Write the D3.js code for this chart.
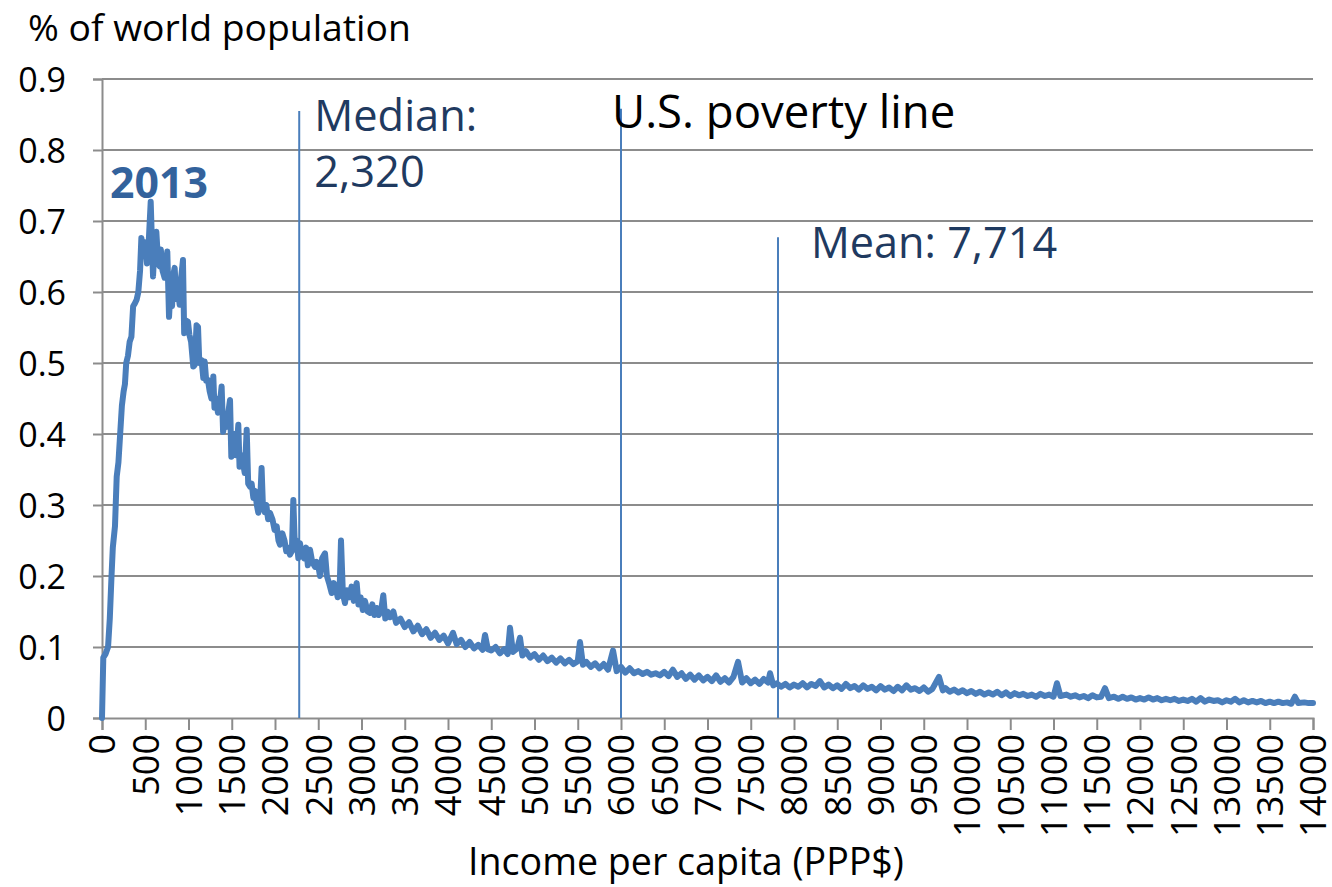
<!DOCTYPE html>
<html>
<head>
<meta charset="utf-8">
<script src="https://cdn.jsdelivr.net/npm/d3@7/dist/d3.min.js"></script>
<style>
  html, body { margin: 0; padding: 0; background: #fff; }
  svg { display: block; }
  text { font-family: "Open Sans", "Noto Sans", sans-serif; }
</style>
</head>
<body>
<svg id="chart" width="1332" height="887"></svg>
<script>
// ---------- data ----------
const yearLabel = "2013";
const yTitle = "% of world population";
const xTitle = "Income per capita (PPP$)";
const yTicks = [0, 0.1, 0.2, 0.3, 0.4, 0.5, 0.6, 0.7, 0.8, 0.9];
const xTicks = [0, 500, 1000, 1500, 2000, 2500, 3000, 3500, 4000, 4500, 5000, 5500, 6000, 6500, 7000,
  7500, 8000, 8500, 9000, 9500, 10000, 10500, 11000, 11500, 12000, 12500, 13000, 13500, 14000];

// reference lines: income position, top of line (share), label lines
const markerIncome = [2280, 6000, 7815];
const markerTop = [0.855, 0.858, 0.677];
const markerLabels = [["Median:", "2,320"], ["U.S. poverty line"], ["Mean: 7,714"]];

// income (PPP$) and share of world population (%)
const income = [
  0, 15, 40, 70, 90, 110, 125, 150, 170, 190, 210, 230, 250, 265, 280, 300, 320, 340, 360, 380,
  400, 420, 440, 455, 475, 500, 520, 540, 563, 580, 590, 610, 628, 650, 667, 680, 700, 724, 740, 755,
  775, 790, 810, 825, 840, 860, 880, 898, 915, 936, 950, 970, 994, 1010, 1030, 1055, 1071, 1093, 1110, 1125,
  1151, 1171, 1187, 1205, 1225, 1245, 1265, 1287, 1300, 1320, 1340, 1360, 1383, 1400, 1420, 1440, 1460, 1480, 1495, 1510,
  1530, 1550, 1576, 1590, 1610, 1630, 1650, 1673, 1690, 1711, 1730, 1750, 1770, 1790, 1807, 1830, 1845, 1860, 1880, 1900,
  1920, 1942, 1970, 1995, 2020, 2040, 2058, 2085, 2110, 2130, 2150, 2173, 2195, 2212, 2230, 2250, 2270, 2289, 2310, 2335,
  2360, 2380, 2405, 2430, 2462, 2480, 2500, 2520, 2545, 2578, 2600, 2625, 2655, 2680, 2700, 2725, 2745, 2763, 2785, 2809,
  2830, 2860, 2885, 2910, 2944, 2965, 2990, 3015, 3040, 3070, 3098, 3125, 3150, 3175, 3200, 3225, 3252, 3275, 3300, 3330,
  3368, 3400, 3450, 3500, 3550, 3600, 3650, 3700, 3750, 3800, 3850, 3900, 3950, 4000, 4058, 4100, 4150, 4200, 4250, 4300,
  4350, 4400, 4428, 4460, 4500, 4550, 4600, 4650, 4690, 4717, 4750, 4800, 4832, 4860, 4900, 4950, 5000, 5050, 5100, 5150,
  5200, 5250, 5300, 5350, 5400, 5450, 5500, 5526, 5560, 5600, 5650, 5700, 5750, 5800, 5850, 5908, 5950, 6000, 6050, 6100,
  6150, 6200, 6250, 6300, 6350, 6400, 6450, 6500, 6550, 6600, 6650, 6700, 6750, 6800, 6850, 6900, 6950, 7000, 7050, 7100,
  7150, 7200, 7250, 7300, 7353, 7400, 7450, 7500, 7550, 7600, 7650, 7700, 7723, 7760, 7800, 7850, 7900, 7950, 8000, 8050,
  8100, 8150, 8200, 8250, 8300, 8350, 8400, 8450, 8500, 8550, 8600, 8650, 8700, 8750, 8800, 8850, 8900, 8950, 9000, 9050,
  9100, 9150, 9200, 9250, 9300, 9350, 9400, 9450, 9500, 9550, 9600, 9676, 9720, 9750, 9800, 9850, 9900, 9950, 10000, 10050,
  10100, 10150, 10200, 10250, 10300, 10350, 10400, 10450, 10500, 10550, 10600, 10650, 10700, 10750, 10800, 10850, 10900, 10950, 11000, 11040,
  11080, 11150, 11200, 11250, 11300, 11350, 11400, 11450, 11500, 11550, 11595, 11640, 11700, 11750, 11800, 11850, 11900, 11950, 12000, 12050,
  12100, 12150, 12200, 12250, 12300, 12350, 12400, 12450, 12500, 12550, 12600, 12650, 12700, 12750, 12800, 12850, 12900, 12950, 13000, 13050,
  13100, 13150, 13200, 13250, 13300, 13350, 13400, 13450, 13500, 13550, 13600, 13650, 13700, 13750, 13790, 13830, 13900, 13950, 14000
];
const share = [
  0, 0.085, 0.09, 0.1, 0.14, 0.2, 0.24, 0.27, 0.34, 0.36, 0.4, 0.44, 0.46, 0.47, 0.5, 0.51, 0.53, 0.537, 0.58, 0.584,
  0.589, 0.6, 0.63, 0.676, 0.66, 0.67, 0.64, 0.67, 0.727, 0.66, 0.622, 0.67, 0.685, 0.64, 0.636, 0.66, 0.63, 0.62, 0.64, 0.657,
  0.565, 0.6, 0.58, 0.625, 0.634, 0.59, 0.6, 0.582, 0.62, 0.645, 0.542, 0.56, 0.558, 0.54, 0.53, 0.495, 0.497, 0.553, 0.551, 0.5,
  0.504, 0.479, 0.502, 0.475, 0.476, 0.46, 0.45, 0.481, 0.437, 0.45, 0.43, 0.44, 0.467, 0.403, 0.42, 0.41, 0.43, 0.448, 0.368, 0.39,
  0.4, 0.37, 0.413, 0.354, 0.37, 0.36, 0.345, 0.406, 0.33, 0.326, 0.33, 0.31, 0.32, 0.3, 0.289, 0.31, 0.352, 0.3, 0.29, 0.3,
  0.28, 0.289, 0.28, 0.265, 0.27, 0.25, 0.244, 0.26, 0.25, 0.235, 0.24, 0.23, 0.235, 0.307, 0.24, 0.25, 0.225, 0.246, 0.23, 0.225,
  0.24, 0.215, 0.237, 0.22, 0.213, 0.22, 0.215, 0.2, 0.225, 0.232, 0.2, 0.19, 0.176, 0.19, 0.185, 0.17, 0.172, 0.25, 0.175, 0.162,
  0.18, 0.17, 0.185, 0.165, 0.19, 0.16, 0.17, 0.152, 0.165, 0.15, 0.148, 0.16, 0.145, 0.155, 0.145, 0.15, 0.173, 0.14, 0.15, 0.142,
  0.15, 0.134, 0.14, 0.128, 0.135, 0.122, 0.13, 0.118, 0.125, 0.113, 0.12, 0.11, 0.116, 0.105, 0.12, 0.104, 0.11, 0.1, 0.107, 0.098,
  0.103, 0.096, 0.117, 0.097, 0.095, 0.1, 0.091, 0.097, 0.09, 0.127, 0.093, 0.098, 0.113, 0.088, 0.094, 0.085, 0.09, 0.082, 0.088, 0.08,
  0.085, 0.078, 0.084, 0.077, 0.082, 0.076, 0.08, 0.107, 0.075, 0.079, 0.072, 0.077, 0.07, 0.076, 0.068, 0.095, 0.066, 0.072, 0.064, 0.07,
  0.063, 0.066, 0.062, 0.065, 0.061, 0.063, 0.06, 0.065, 0.059, 0.068, 0.058, 0.063, 0.055, 0.061, 0.054, 0.06, 0.053, 0.058, 0.052, 0.06,
  0.051, 0.056, 0.05, 0.058, 0.079, 0.05, 0.056, 0.049, 0.054, 0.048, 0.055, 0.05, 0.063, 0.046, 0.049, 0.044, 0.048, 0.043, 0.047, 0.044,
  0.049, 0.043, 0.048, 0.045, 0.052, 0.043, 0.047, 0.042, 0.046, 0.041, 0.048, 0.042, 0.045, 0.04, 0.046, 0.041, 0.044, 0.039, 0.045, 0.04,
  0.043, 0.038, 0.044, 0.039, 0.046, 0.04, 0.042, 0.038, 0.043, 0.037, 0.041, 0.058, 0.039, 0.042, 0.037, 0.04, 0.036, 0.039, 0.035, 0.038,
  0.034, 0.037, 0.033, 0.036, 0.033, 0.037, 0.032, 0.036, 0.031, 0.035, 0.032, 0.034, 0.031, 0.033, 0.03, 0.034, 0.031, 0.033, 0.03, 0.049,
  0.031, 0.033, 0.03, 0.032, 0.029, 0.031, 0.028, 0.032, 0.029, 0.03, 0.042, 0.028, 0.03, 0.027, 0.03, 0.027, 0.029, 0.026, 0.028, 0.026,
  0.029, 0.026, 0.028, 0.025, 0.027, 0.025, 0.027, 0.024, 0.026, 0.024, 0.027, 0.023, 0.028, 0.023, 0.026, 0.024, 0.025, 0.022, 0.025, 0.023,
  0.027, 0.022, 0.025, 0.022, 0.024, 0.022, 0.024, 0.021, 0.023, 0.021, 0.023, 0.021, 0.022, 0.02, 0.03, 0.021, 0.022, 0.021, 0.021
];

// ---------- layout ----------
const W = 1332, H = 887;
const plot = { left: 102, right: 1313, top: 79, bottom: 718 };

const svg = d3.select("#chart");
const x = d3.scaleLinear().domain([0, 14000]).range([plot.left, plot.right]);
const y = d3.scaleLinear().domain([0, 0.9]).range([plot.bottom, plot.top]);

const gridColor = "#8c8c8c";
const lineColor = "#4a7ebb";

// horizontal gridlines
svg.append("g")
  .selectAll("line")
  .data(yTicks.filter(d => d > 0))
  .join("line")
  .attr("x1", plot.left).attr("x2", plot.right)
  .attr("y1", d => y(d)).attr("y2", d => y(d))
  .attr("stroke", gridColor).attr("stroke-width", 2);

// y axis
const yAxis = svg.append("g")
  .attr("transform", `translate(${plot.left},0)`)
  .call(d3.axisLeft(y).tickValues(yTicks).tickSize(9).tickPadding(0)
    .tickFormat(d => d === 0 ? "0" : d3.format(".1f")(d)));
yAxis.select(".domain").attr("stroke", gridColor).attr("stroke-width", 2);
yAxis.selectAll(".tick line").attr("stroke", gridColor).attr("stroke-width", 2);
yAxis.selectAll(".tick text")
  .attr("x", -36)
  .attr("dy", "0.36em")
  .attr("fill", "#000")
  .style("font-size", "34px")
  .style("font-family", "'Open Sans', sans-serif");

// x axis
const xAxis = svg.append("g")
  .attr("transform", `translate(0,${plot.bottom})`)
  .call(d3.axisBottom(x).tickValues(xTicks).tickSize(12).tickFormat(d3.format("d")));
xAxis.select(".domain").attr("stroke", gridColor).attr("stroke-width", 2);
xAxis.selectAll(".tick line").attr("stroke", gridColor).attr("stroke-width", 2);
xAxis.selectAll(".tick text")
  .attr("transform", "rotate(-90)")
  .attr("text-anchor", "end")
  .attr("x", -16)
  .attr("y", 0)
  .attr("dy", "0.36em")
  .attr("fill", "#000")
  .style("font-size", "36px")
  .style("font-family", "'Open Sans', sans-serif");

// reference lines
svg.append("g")
  .selectAll("line")
  .data(markerIncome)
  .join("line")
  .attr("x1", d => x(d)).attr("x2", d => x(d))
  .attr("y1", (d, i) => y(markerTop[i])).attr("y2", plot.bottom)
  .attr("stroke", lineColor).attr("stroke-width", 2);

// curve
const pts = income.map((v, i) => [v, share[i]]);
svg.append("path")
  .datum(pts)
  .attr("fill", "none")
  .attr("stroke", lineColor)
  .attr("stroke-width", 6)
  .attr("stroke-linejoin", "round")
  .attr("stroke-linecap", "round")
  .attr("d", d3.line().x(d => x(d[0])).y(d => y(d[1])));

// titles
svg.append("text")
  .attr("x", 28).attr("y", 40.5)
  .attr("fill", "#000")
  .style("font-size", "37.3px")
  .text(yTitle);

svg.append("text")
  .attr("x", 686).attr("y", 875)
  .attr("text-anchor", "middle")
  .attr("fill", "#000")
  .style("font-size", "37.6px")
  .text(xTitle);

// year label
svg.append("text")
  .attr("x", 110).attr("y", 198)
  .attr("fill", "#33629c")
  .style("font-size", "42.8px")
  .style("font-weight", "bold")
  .text(yearLabel);

// marker labels
const labelColors = ["#1f3a60", "#000", "#1f3a60"];
const labelSizes = [43.4, 45.5, 43.2];
const labelDx = [15, -9, 33];
const labelY = [131, 128, 258];
markerLabels.forEach((lines, i) => {
  const t = svg.append("text")
    .attr("x", x(markerIncome[i]) + labelDx[i])
    .attr("y", labelY[i])
    .attr("fill", labelColors[i])
    .style("font-size", labelSizes[i] + "px");
  lines.forEach((s, j) => {
    t.append("tspan")
      .attr("x", x(markerIncome[i]) + labelDx[i])
      .attr("dy", j === 0 ? 0 : 56)
      .text(s);
  });
});
</script>
</body>
</html>
